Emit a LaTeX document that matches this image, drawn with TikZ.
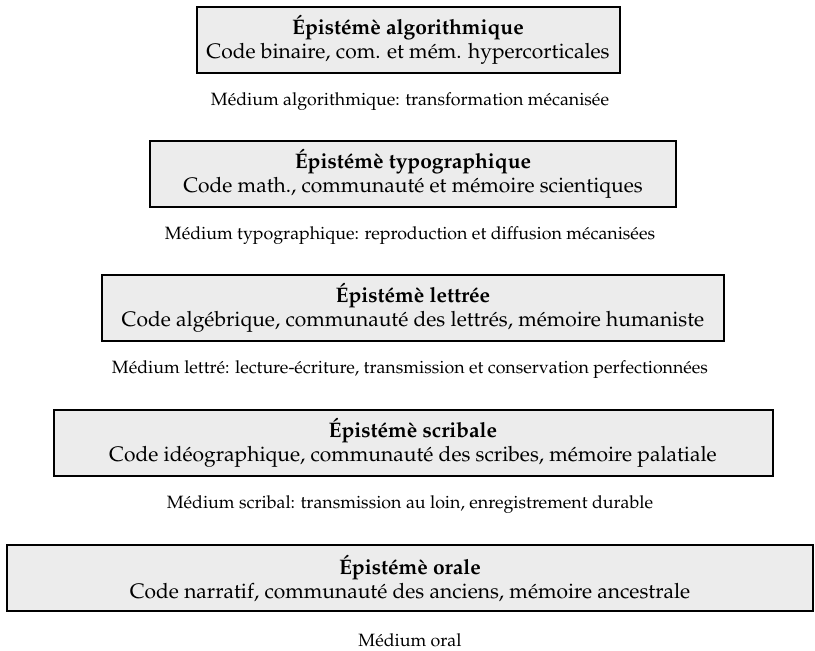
\documentclass[tikz,border=0pt]{standalone}
\usepackage[T1]{fontenc}
\usepackage{mathpazo}
\usepackage{tikz}
\usetikzlibrary{positioning}
\tikzset{
	epistbox/.style={draw, line width=1pt, fill=gray!15, align=center, minimum height=33pt, inner sep=0pt, font=\fontsize{10.5}{12}\selectfont}
}
\tikzset{
	mediumtext/.style={font=\fontsize{8.9}{10}\selectfont}
}

\begin{document}
\begin{tikzpicture}[x=0.5pt, y=-0.5pt]
      \useasboundingbox (0,0) rectangle (815,651);
      \node[epistbox, minimum width=211.5pt] (algo) at (408,40) {\textbf{Épistémè algorithmique}\\Code binaire, com. et mém. hypercorticales};
      \node[mediumtext] (m-algo) at (410,102) {Médium algorithmique: transformation mécanisée};
      \node[epistbox, minimum width=263pt] (typo) at (413,174) {\textbf{Épistémè typographique}\\Code math., communauté et mémoire scientiques};
      \node[mediumtext] (m-typo) at (410,236) {Médium typographique: reproduction et diffusion mécanisées};
      \node[epistbox, minimum width=311pt] (lettree) at (413,308) {\textbf{Épistémè lettrée}\\Code algébrique, communauté des lettrés, mémoire humaniste};
      \node[mediumtext] (m-lettree) at (410,370) {Médium lettré: lecture-écriture, transmission et conservation perfectionnées};
      \node[epistbox, minimum width=359.5pt] (scribale) at (413,443) {\textbf{Épistémè scribale}\\Code idéographique, communauté des scribes, mémoire palatiale};
      \node[mediumtext] (m-scribale) at (410,505) {Médium scribal: transmission au loin, enregistrement durable};
      \node[epistbox, minimum width=403pt] (orale) at (410,578) {\textbf{Épistémè orale}\\Code narratif, communauté des anciens, mémoire ancestrale};
      \node[mediumtext] (m-orale) at (410,640) {Médium oral};
\end{tikzpicture}
\end{document}
